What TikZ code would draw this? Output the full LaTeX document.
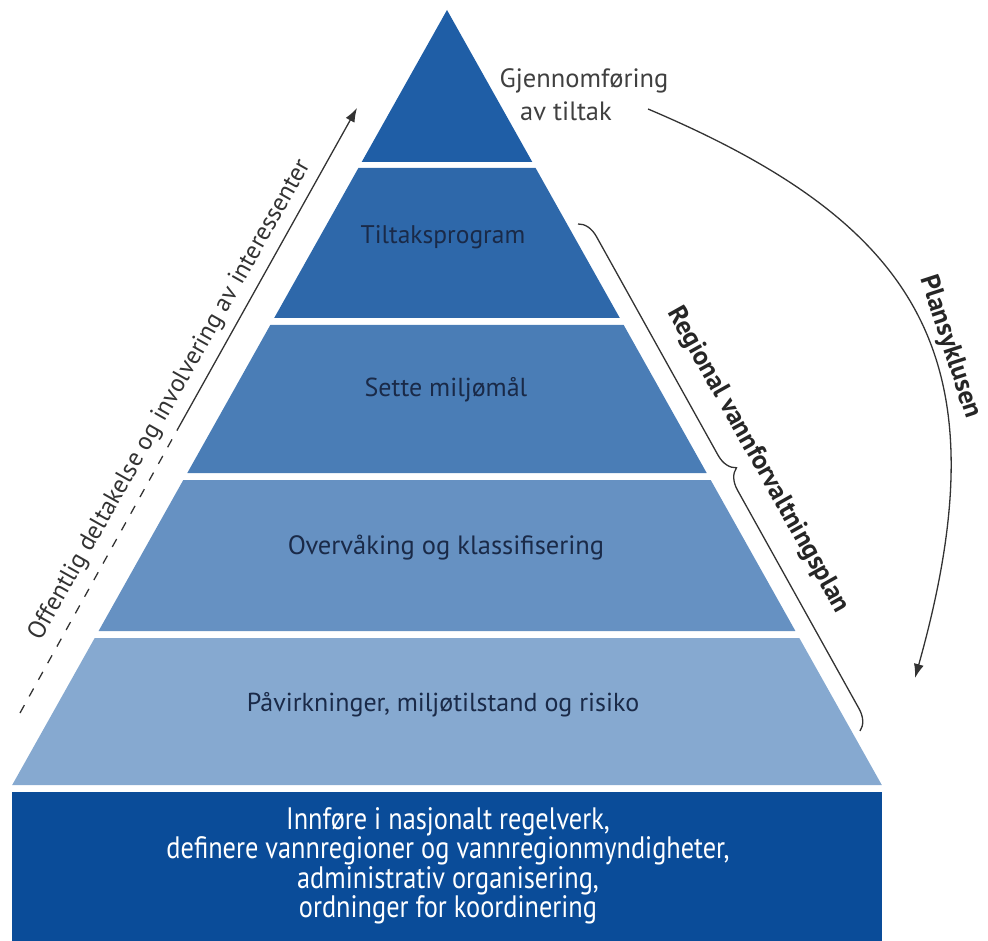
\documentclass[tikz,border=0pt]{standalone}
\usepackage{fontspec}
\setmainfont{PT Sans}
\newfontfamily\narrowfont{PT Sans}[FakeStretch=0.85]
\usepackage{tikz}
\usetikzlibrary{arrows.meta,arrows}
\usetikzlibrary{decorations.pathreplacing}

\definecolor{lagA}{HTML}{1F5EA6}
\definecolor{lagB}{HTML}{2E68AA}
\definecolor{lagC}{HTML}{4A7DB6}
\definecolor{lagD}{HTML}{6691C2}
\definecolor{lagE}{HTML}{86A9D0}
\definecolor{grunn}{HTML}{0A4C99}
\definecolor{lagtekst}{HTML}{1A2A48}
\definecolor{strek}{HTML}{333333}

\begin{document}
\begin{tikzpicture}[x=1pt, y=-1pt, scale=1, transform shape, >={Latex[length=14pt, width=10pt]}]

        \useasboundingbox (0,0) rectangle (988,941);

        % Pyramid layers
        \fill[lagA] (447,10) -- (532.3,162) -- (361.7,162) -- cycle;
        \fill[lagB] (358.4,168) -- (535.6,168) -- (619.8,318) -- (274.2,318) -- cycle;
        \fill[lagC] (270.3,325) -- (623.7,325) -- (706.7,473) -- (187.3,473) -- cycle;
        \fill[lagD] (183.3,480) -- (710.7,480) -- (795.4,631) -- (98.6,631) -- cycle;
        \fill[lagE] (94.7,638) -- (799.3,638) -- (881.8,785) -- (12.2,785) -- cycle;
        \fill[grunn] (12,792) rectangle (882,941);

        % Layer texts
        \node at (584,95) [align=center, text=black!75, font=\fontsize{26.5}{33}\selectfont] (gjen) {Gjennomføring\\av tiltak\hspace*{36pt}};
        \node at (443,237) [text=lagtekst, font=\fontsize{25.5}{30}\selectfont] (tiltak) {Tiltaksprogram};
        \node at (446,390) [text=lagtekst, font=\fontsize{26}{30}\selectfont] (maal) {Sette miljømål};
        \node at (446,548) [text=lagtekst, font=\fontsize{26.5}{30}\selectfont] (overv) {Overvåking og klassifisering};
        \node at (443,705) [text=lagtekst, font=\fontsize{26}{30}\selectfont] (paavirk) {Påvirkninger, miljøtilstand og risiko};
        \node at (448,866) [align=center, text=white, font=\narrowfont\fontsize{31}{29.5}\selectfont] (grunntekst) {Innføre i nasjonalt regelverk,\\definere vannregioner og vannregionmyndigheter,\\administrativ organisering,\\ordninger for koordinering};

        % Side texts
        \node at (170,400) [rotate=60.5, text=black!80, font=\fontsize{25}{30}\selectfont] (offentlig) {Offentlig deltakelse og involvering av interessenter};
        \node at (758,460) [rotate=-60.7, text=black!85, font=\bfseries\fontsize{26.5}{30}\selectfont] (regional) {Regional vannforvaltningsplan};
        \node at (950,347) [rotate=-72, text=black!85, font=\bfseries\fontsize{26.5}{30}\selectfont] (syklus) {Plansyklusen};

        % Ends of the connectors
        \coordinate (medvStart) at (20,713);
        \coordinate (medvMidt) at (180,425);
        \coordinate (medvSlutt) at (357,108);
        \coordinate (syklusStart) at (648,109);
        \coordinate (syklusSlutt) at (915,678);
        \coordinate (klammeTopp) at (578,224);
        \coordinate (klammeBunn) at (860,731);

        % Arrows
        \draw[strek, line width=1.3pt, dash pattern=on 9pt off 10pt] (medvStart) -- (medvMidt);
        \draw[->, strek, line width=1.3pt] (medvMidt) -- (medvSlutt);
        \draw[->, strek, line width=1.3pt] (syklusStart) .. controls (924,226) and (1004,361) .. (syklusSlutt);

        % Brace
        \draw[strek, line width=1.3pt, decorate, decoration={brace, amplitude=20pt}] (klammeTopp) -- (klammeBunn);

\end{tikzpicture}
\end{document}
